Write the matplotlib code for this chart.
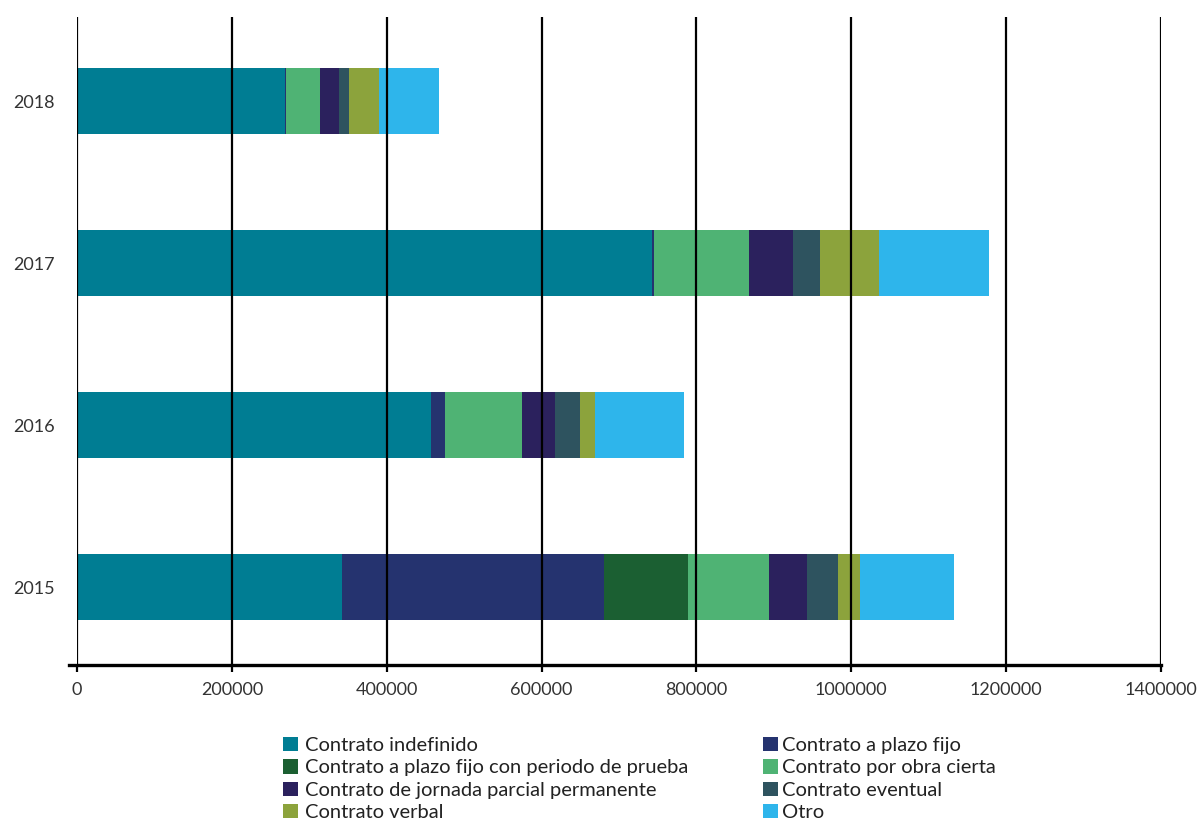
import matplotlib
matplotlib.use("Agg")
import matplotlib.pyplot as plt
from matplotlib.patches import Patch
import numpy as np

plt.rcParams['font.family'] = ['Lato', 'DejaVu Sans']

years = ["2015", "2016", "2017", "2018"]

categories = [
    "Contrato indefinido",
    "Contrato a plazo fijo",
    "Contrato a plazo fijo con periodo de prueba",
    "Contrato por obra cierta",
    "Contrato de jornada parcial permanente",
    "Contrato eventual",
    "Contrato verbal",
    "Otro",
]

colors = ["#007D93", "#25336F", "#1B5F32", "#4FB374",
          "#2B215D", "#2E535F", "#8CA33C", "#2EB5EB"]

# values per year (2015, 2016, 2017, 2018)
indefinido = [342000, 457000, 742500, 268500]
plazo_fijo = [338500, 18000, 2500, 1500]
plazo_prueba = [108500, 0, 0, 0]
obra_cierta = [104500, 99500, 122500, 44000]
jornada_parcial = [49000, 42500, 57000, 24500]
eventual = [40000, 32500, 35000, 13000]
verbal = [28500, 19500, 76000, 38500]
otro = [121500, 115000, 142000, 77500]

series = [indefinido, plazo_fijo, plazo_prueba, obra_cierta,
          jornada_parcial, eventual, verbal, otro]

W, H = 1200, 824
fig = plt.figure(figsize=(W / 100, H / 100), dpi=100)
ax = fig.add_axes([77 / W, 1 - 665 / H, (1161 - 77) / W, (665 - 17) / H])

y = np.arange(len(years))
left = np.zeros(len(years))
for vals, col, name in zip(series, colors, categories):
    vals = np.array(vals, dtype=float)
    ax.barh(y, vals, left=left, height=0.41, color=col, label=name,
            linewidth=0, zorder=1)
    left += vals

ax.set_xlim(0, 1400000)
ax.set_ylim(-0.48, 3.52)
ax.set_xticks(np.arange(0, 1400001, 200000))
ax.set_xticklabels([f"{v:d}" for v in range(0, 1400001, 200000)])
ax.set_yticks(y)
ax.set_yticklabels(years)

ax.set_axisbelow(False)
ax.grid(axis='x', color='black', linewidth=1.6, zorder=2.5)
ax.grid(axis='y', visible=False)

for s in ['top', 'right', 'left']:
    ax.spines[s].set_visible(False)
ax.spines['bottom'].set_linewidth(2.4)
ax.spines['bottom'].set_color('black')
ax.spines['bottom'].set_bounds(-10500, 1400000)

ax.tick_params(axis='x', length=5, width=1.6, color='black', pad=7,
               labelsize=13, labelcolor='#333333')
ax.tick_params(axis='y', length=0, pad=16, labelsize=13, labelcolor='#333333')

handles = [Patch(facecolor=c, edgecolor='none') for c in colors]
left_idx = [0, 2, 4, 6]
right_idx = [1, 3, 5, 7]

common = dict(frameon=False, fontsize=14.5, handlelength=0.72, handleheight=0.72,
              borderpad=0, borderaxespad=0, labelspacing=0.25,
              loc='upper left', labelcolor='#222222')
leg1 = fig.legend([handles[i] for i in left_idx], [categories[i] for i in left_idx],
                  bbox_to_anchor=(283 / W, 1 - 737 / H), handletextpad=0.35, **common)
leg2 = fig.legend([handles[i] for i in right_idx], [categories[i] for i in right_idx],
                  bbox_to_anchor=(763 / W, 1 - 737 / H), handletextpad=0.2, **common)

fig.savefig("out.png", dpi=100)
